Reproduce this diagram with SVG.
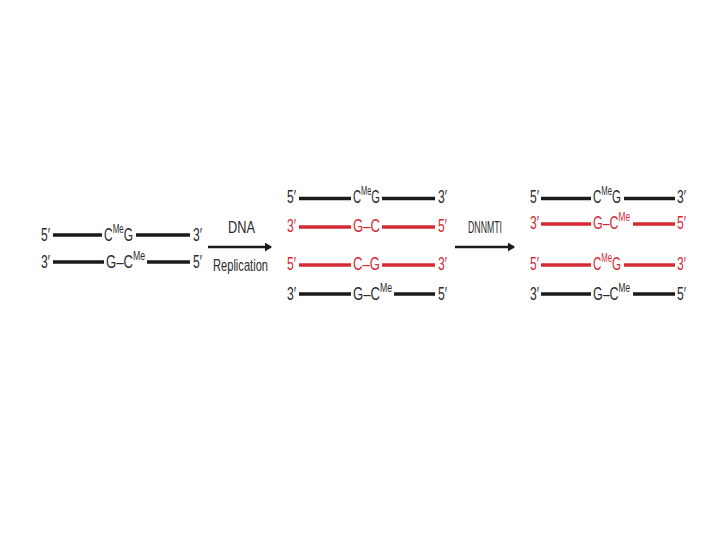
<svg xmlns="http://www.w3.org/2000/svg" width="720" height="540" viewBox="0 0 720 540">
<style>
text{font-family:"Liberation Sans Narrow","Liberation Sans","Arial",sans-serif;font-size:18px;fill:#2b2b2b}
.r text{fill:#d42a33}
.sup{font-size:12px}
.lb{stroke:#1a1a1a;stroke-width:3.3}
.lr{stroke:#d42a33;stroke-width:3.3}
.arr{stroke:#1a1a1a;stroke-width:2.6;fill:none}
.lab{font-size:17px}
</style>
<defs>
<marker id="ah" markerWidth="8" markerHeight="9" refX="6" refY="4.5" orient="auto" markerUnits="userSpaceOnUse">
<path d="M0,0 L7,4.5 L0,9 Z" fill="#1a1a1a"/>
</marker>
</defs>
<rect width="720" height="540" fill="#fff"/>

<g id="connectors">
<line class="arr" x1="208" y1="247" x2="271" y2="247" marker-end="url(#ah)"/>
<line class="arr" x1="455" y1="247" x2="514" y2="247" marker-end="url(#ah)"/>
</g>

<g id="label-dna-replication">
<text class="lab" x="228" y="233" textLength="27" lengthAdjust="spacingAndGlyphs">DNA</text>
<text class="lab" x="213" y="271" textLength="55" lengthAdjust="spacingAndGlyphs">Replication</text>
</g>
<g id="label-dnmt">
<text class="lab" x="468" y="233" textLength="34" lengthAdjust="spacingAndGlyphs">DNNMTI</text>
</g>

<g id="parent">
<g id="p-top">
<text x="41" y="241" textLength="9" lengthAdjust="spacingAndGlyphs">5′</text>
<line class="lb" x1="53" y1="235" x2="102" y2="235"/>
<text x="104" y="241" textLength="29" lengthAdjust="spacingAndGlyphs">C<tspan class="sup" dy="-8">Me</tspan><tspan dy="8">G</tspan></text>
<line class="lb" x1="136" y1="235" x2="190" y2="235"/>
<text x="193" y="241" textLength="9" lengthAdjust="spacingAndGlyphs">3′</text>
</g>
<g id="p-bottom">
<text x="41" y="268" textLength="9" lengthAdjust="spacingAndGlyphs">3′</text>
<line class="lb" x1="53" y1="262" x2="104" y2="262"/>
<text x="106" y="268" textLength="39" lengthAdjust="spacingAndGlyphs">G–C<tspan class="sup" dy="-8">Me</tspan></text>
<line class="lb" x1="147" y1="262" x2="190" y2="262"/>
<text x="193" y="268" textLength="9" lengthAdjust="spacingAndGlyphs">5′</text>
</g>
</g>

<g id="daughters">
<g id="m-row1">
<text x="287" y="203" textLength="9" lengthAdjust="spacingAndGlyphs">5′</text>
<line class="lb" x1="299" y1="198.5" x2="351" y2="198.5"/>
<text x="353" y="203" textLength="27" lengthAdjust="spacingAndGlyphs">C<tspan class="sup" dy="-8">Me</tspan><tspan dy="8">G</tspan></text>
<line class="lb" x1="382" y1="198.5" x2="435" y2="198.5"/>
<text x="438" y="203" textLength="9" lengthAdjust="spacingAndGlyphs">3′</text>
</g>
<g id="m-row2" class="r">
<text x="287" y="232" textLength="9" lengthAdjust="spacingAndGlyphs">3′</text>
<line class="lr" x1="299" y1="227" x2="351" y2="227"/>
<text x="353" y="232" textLength="27" lengthAdjust="spacingAndGlyphs">G–C</text>
<line class="lr" x1="382" y1="227" x2="435" y2="227"/>
<text x="438" y="232" textLength="9" lengthAdjust="spacingAndGlyphs">5′</text>
</g>
<g id="m-row3" class="r">
<text x="287" y="270" textLength="9" lengthAdjust="spacingAndGlyphs">5′</text>
<line class="lr" x1="299" y1="265" x2="351" y2="265"/>
<text x="353" y="270" textLength="27" lengthAdjust="spacingAndGlyphs">C–G</text>
<line class="lr" x1="382" y1="265" x2="435" y2="265"/>
<text x="438" y="270" textLength="9" lengthAdjust="spacingAndGlyphs">3′</text>
</g>
<g id="m-row4">
<text x="287" y="300" textLength="9" lengthAdjust="spacingAndGlyphs">3′</text>
<line class="lb" x1="299" y1="294" x2="351" y2="294"/>
<text x="353" y="300" textLength="39" lengthAdjust="spacingAndGlyphs">G–C<tspan class="sup" dy="-8">Me</tspan></text>
<line class="lb" x1="394" y1="294" x2="435" y2="294"/>
<text x="438" y="300" textLength="9" lengthAdjust="spacingAndGlyphs">5′</text>
</g>
</g>

<g id="methylated">
<g id="r-row1">
<text x="530" y="203" textLength="9" lengthAdjust="spacingAndGlyphs">5′</text>
<line class="lb" x1="541" y1="198.5" x2="591" y2="198.5"/>
<text x="593" y="203" textLength="28" lengthAdjust="spacingAndGlyphs">C<tspan class="sup" dy="-8">Me</tspan><tspan dy="8">G</tspan></text>
<line class="lb" x1="624" y1="198.5" x2="675" y2="198.5"/>
<text x="677" y="203" textLength="9" lengthAdjust="spacingAndGlyphs">3′</text>
</g>
<g id="r-row2" class="r">
<text x="530" y="229" textLength="9" lengthAdjust="spacingAndGlyphs">3′</text>
<line class="lr" x1="541" y1="224" x2="591" y2="224"/>
<text x="593" y="229" textLength="37" lengthAdjust="spacingAndGlyphs">G–C<tspan class="sup" dy="-8">Me</tspan></text>
<line class="lr" x1="633" y1="224" x2="675" y2="224"/>
<text x="677" y="229" textLength="9" lengthAdjust="spacingAndGlyphs">5′</text>
</g>
<g id="r-row3" class="r">
<text x="530" y="270" textLength="9" lengthAdjust="spacingAndGlyphs">5′</text>
<line class="lr" x1="541" y1="265" x2="591" y2="265"/>
<text x="593" y="270" textLength="28" lengthAdjust="spacingAndGlyphs">C<tspan class="sup" dy="-8">Me</tspan><tspan dy="8">G</tspan></text>
<line class="lr" x1="624" y1="265" x2="675" y2="265"/>
<text x="677" y="270" textLength="9" lengthAdjust="spacingAndGlyphs">3′</text>
</g>
<g id="r-row4">
<text x="530" y="300" textLength="9" lengthAdjust="spacingAndGlyphs">3′</text>
<line class="lb" x1="541" y1="294" x2="591" y2="294"/>
<text x="593" y="300" textLength="37" lengthAdjust="spacingAndGlyphs">G–C<tspan class="sup" dy="-8">Me</tspan></text>
<line class="lb" x1="633" y1="294" x2="675" y2="294"/>
<text x="677" y="300" textLength="9" lengthAdjust="spacingAndGlyphs">5′</text>
</g>
</g>
</svg>
